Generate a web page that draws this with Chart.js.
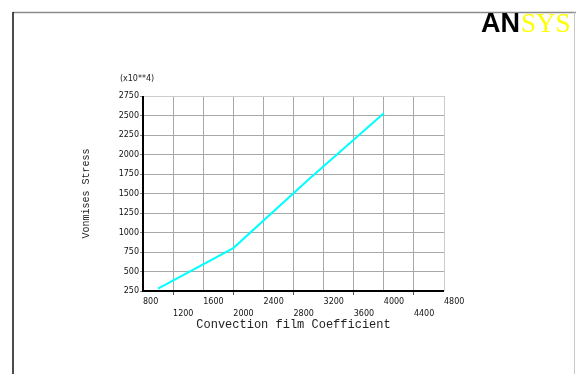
<!DOCTYPE html>
<html>
<head>
<meta charset="utf-8">
<script src="https://cdn.jsdelivr.net/npm/chart.js@4/dist/chart.umd.min.js"></script>
<style>
  html, body { margin: 0; padding: 0; background: #ffffff; }
  #wrap { width: 576px; height: 374px; position: relative; }
</style>
</head>
<body>
<div id="wrap"><canvas id="c" width="576" height="374"></canvas></div>
<script>
// ---- data ----
const convectionCoeff = [1000, 2000, 3000, 4000];
const vonmisesStress = [280, 800, 1680, 2530];
const xTickValues = [800, 1200, 1600, 2000, 2400, 2800, 3200, 3600, 4000, 4400, 4800];
const yTickValues = [250, 500, 750, 1000, 1250, 1500, 1750, 2000, 2250, 2500, 2750];
const xTitle = 'Convection film Coefficient';
const yTitle = 'Vonmises Stress';
const yMultiplier = '(x10**4)';

const points = convectionCoeff.map((x, i) => ({ x: x, y: vonmisesStress[i] }));

const framePlugin = {
  id: 'frame',
  beforeDraw(chart) {
    const ctx = chart.ctx;
    ctx.save();
    ctx.fillStyle = '#ffffff';
    ctx.fillRect(0, 0, chart.width, chart.height);
    ctx.strokeStyle = '#8a8a8a';
    ctx.lineWidth = 1.5;
    ctx.beginPath();
    ctx.moveTo(13, 12.5);
    ctx.lineTo(576, 12.5);
    ctx.stroke();
    ctx.strokeStyle = '#111111';
    ctx.lineWidth = 1.5;
    ctx.beginPath();
    ctx.moveTo(13, 12);
    ctx.lineTo(13, 374);
    ctx.stroke();
    ctx.strokeStyle = '#c8c8c8';
    ctx.lineWidth = 1;
    ctx.beginPath();
    ctx.moveTo(574.5, 12);
    ctx.lineTo(574.5, 374);
    ctx.stroke();
    ctx.restore();
  },
  afterDraw(chart) {
    const ctx = chart.ctx;
    const area = chart.chartArea;
    ctx.save();
    ctx.strokeStyle = '#000000';
    ctx.lineWidth = 2;
    ctx.beginPath();
    ctx.moveTo(area.left, area.top);
    ctx.lineTo(area.left, area.bottom);
    ctx.lineTo(area.right, area.bottom);
    ctx.stroke();
    ctx.fillStyle = '#222222';
    ctx.font = '8px "DejaVu Sans"';
    ctx.textAlign = 'center';
    ctx.textBaseline = 'middle';
    ctx.fillText(yMultiplier, 137, 79);
    ctx.textAlign = 'left';
    ctx.textBaseline = 'alphabetic';
    ctx.font = 'bold 27px "Liberation Sans"';
    ctx.fillStyle = '#000000';
    ctx.fillText('AN', 481, 32);
    const w = ctx.measureText('AN').width;
    ctx.font = '27px "Liberation Serif"';
    ctx.fillStyle = '#ffff00';
    ctx.fillText('SYS', 481 + w + 1, 32);
    ctx.restore();
  }
};

new Chart(document.getElementById('c'), {
  type: 'scatter',
  data: {
    datasets: [{
      data: points,
      showLine: true,
      borderColor: '#00ffff',
      backgroundColor: '#00ffff',
      borderWidth: 2,
      pointRadius: 0,
      tension: 0
    }]
  },
  options: {
    responsive: false,
    animation: false,
    devicePixelRatio: 1,
    layout: { padding: { left: 80, top: 96, right: 132, bottom: 42 } },
    plugins: { legend: { display: false }, tooltip: { enabled: false } },
    scales: {
      x: {
        type: 'linear',
        min: 800,
        max: 4800,
        afterBuildTicks(scale) { scale.ticks = xTickValues.map(v => ({ value: v })); },
        afterFit(scale) { scale.height = 41; },
        border: { display: false },
        grid: {
          color: (c) => (c.index === xTickValues.length - 1 ? '#cccccc' : '#a8a8a8'),
          lineWidth: 1,
          drawTicks: true,
          tickLength: 4,
          tickColor: (c) => (c.index % 2 === 1 ? '#555555' : 'rgba(0,0,0,0)')
        },
        ticks: {
          align: 'start',
          maxRotation: 0,
          autoSkip: false,
          padding: 1,
          color: '#111111',
          font: { family: 'DejaVu Sans', size: 8, lineHeight: 1.5 },
          callback: (v, i) => (i % 2 === 0 ? [String(v), ''] : ['', String(v)])
        },
        title: {
          display: true,
          text: xTitle,
          color: '#222222',
          font: { family: 'Liberation Mono', size: 12, lineHeight: 1.2 },
          padding: { top: 0, bottom: 0 }
        }
      },
      y: {
        type: 'linear',
        min: 250,
        max: 2750,
        afterBuildTicks(scale) { scale.ticks = yTickValues.map(v => ({ value: v })); },
        afterFit(scale) { scale.width = 63; },
        border: { display: false },
        grid: {
          color: (c) => (c.index === yTickValues.length - 1 ? '#cccccc' : '#a8a8a8'),
          lineWidth: 1,
          drawTicks: true,
          tickLength: 3,
          tickColor: '#888888'
        },
        ticks: {
          autoSkip: false,
          padding: 1,
          color: '#111111',
          font: { family: 'DejaVu Sans', size: 8 },
          callback: (v) => String(v)
        },
        title: {
          display: true,
          text: yTitle,
          color: '#222222',
          font: { family: 'Liberation Mono', size: 10, lineHeight: 1.2 },
          padding: { top: 0, bottom: 0 }
        }
      }
    }
  },
  plugins: [framePlugin]
});
</script>
</body>
</html>
